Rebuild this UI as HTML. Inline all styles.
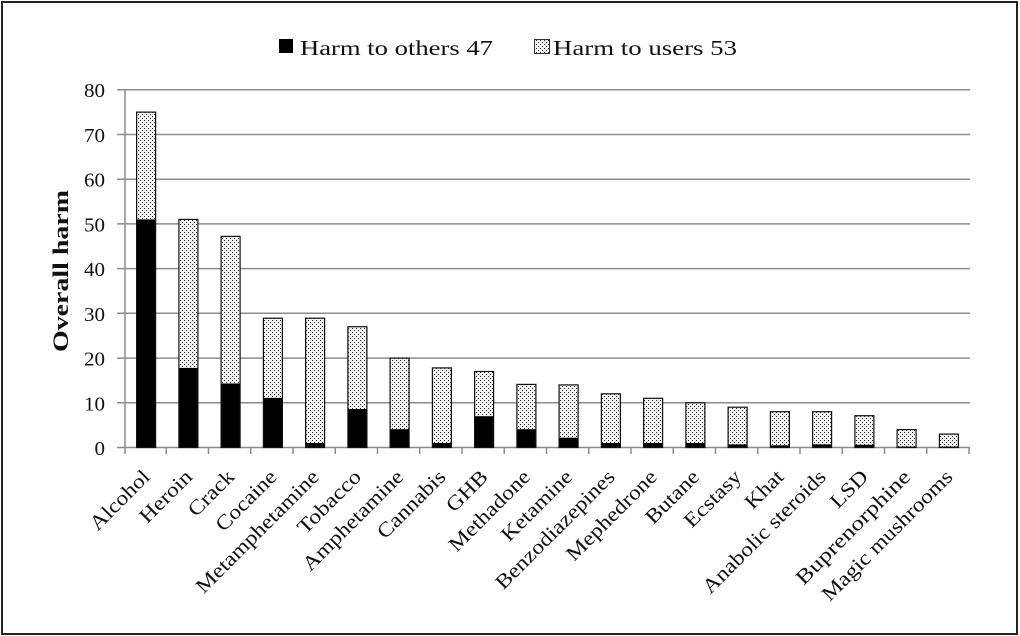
<!DOCTYPE html>
<html>
<head>
<meta charset="utf-8">
<style>
  html,body{margin:0;padding:0;background:#fff;}
  svg{display:block;font-family:"Liberation Serif","Times New Roman",serif;}
  text{font-family:"Liberation Serif","Times New Roman",serif;fill:#111;}
</style>
</head>
<body>
<svg width="1020" height="636" viewBox="0 0 1020 636" xmlns="http://www.w3.org/2000/svg" font-family="'Liberation Serif', 'Times New Roman', serif">
  <defs>
    <pattern id="dots" width="4" height="4" patternUnits="userSpaceOnUse">
      <rect width="4" height="4" fill="#f2f2f2"/>
      <rect x="0" y="0" width="1" height="1" fill="#222"/>
      <rect x="2" y="2" width="1" height="1" fill="#222"/>
    </pattern>
  </defs>
  <rect x="0" y="0" width="1020" height="636" fill="#fff"/>
  <rect x="2" y="2" width="1015" height="632" fill="none" stroke="#222" stroke-width="2"/>

  <!-- Legend -->
  <rect x="279" y="39" width="14" height="14" fill="#000"/>
  <text x="300" y="55" font-size="21.5" textLength="193" lengthAdjust="spacingAndGlyphs">Harm to others 47</text>
  <rect x="534.5" y="39.5" width="15" height="14" fill="url(#dots)" stroke="#333" stroke-width="1"/>
  <text x="553" y="55" font-size="21.5" textLength="184" lengthAdjust="spacingAndGlyphs">Harm to users 53</text>

  <!-- Gridlines -->
  <g stroke="#8c8c8c" stroke-width="1.5">
    <line x1="117" y1="402.8" x2="970" y2="402.8"/>
    <line x1="117" y1="358.1" x2="970" y2="358.1"/>
    <line x1="117" y1="313.3" x2="970" y2="313.3"/>
    <line x1="117" y1="268.6" x2="970" y2="268.6"/>
    <line x1="117" y1="223.9" x2="970" y2="223.9"/>
    <line x1="117" y1="179.2" x2="970" y2="179.2"/>
    <line x1="117" y1="134.5" x2="970" y2="134.5"/>
    <line x1="117" y1="89.7" x2="970" y2="89.7"/>
    <line x1="117" y1="447.5" x2="970" y2="447.5"/>
    <line x1="125" y1="89.7" x2="125" y2="454"/>
  </g>
  <!-- x ticks -->
  <g stroke="#8c8c8c" stroke-width="1.5">
    <line x1="166.25" y1="447.5" x2="166.25" y2="454"/>
    <line x1="208.5" y1="447.5" x2="208.5" y2="454"/>
    <line x1="250.75" y1="447.5" x2="250.75" y2="454"/>
    <line x1="293" y1="447.5" x2="293" y2="454"/>
    <line x1="335.25" y1="447.5" x2="335.25" y2="454"/>
    <line x1="377.5" y1="447.5" x2="377.5" y2="454"/>
    <line x1="419.75" y1="447.5" x2="419.75" y2="454"/>
    <line x1="462" y1="447.5" x2="462" y2="454"/>
    <line x1="504.25" y1="447.5" x2="504.25" y2="454"/>
    <line x1="546.5" y1="447.5" x2="546.5" y2="454"/>
    <line x1="588.75" y1="447.5" x2="588.75" y2="454"/>
    <line x1="631" y1="447.5" x2="631" y2="454"/>
    <line x1="673.25" y1="447.5" x2="673.25" y2="454"/>
    <line x1="715.5" y1="447.5" x2="715.5" y2="454"/>
    <line x1="757.75" y1="447.5" x2="757.75" y2="454"/>
    <line x1="800" y1="447.5" x2="800" y2="454"/>
    <line x1="842.25" y1="447.5" x2="842.25" y2="454"/>
    <line x1="884.5" y1="447.5" x2="884.5" y2="454"/>
    <line x1="926.75" y1="447.5" x2="926.75" y2="454"/>
    <line x1="969" y1="447.5" x2="969" y2="454"/>
  </g>

  <!-- Y tick labels -->
  <g font-size="20" text-anchor="end">
    <text x="105" y="97.2" textLength="21" lengthAdjust="spacingAndGlyphs">80</text>
    <text x="105" y="142" textLength="21" lengthAdjust="spacingAndGlyphs">70</text>
    <text x="105" y="186.7" textLength="21" lengthAdjust="spacingAndGlyphs">60</text>
    <text x="105" y="231.4" textLength="21" lengthAdjust="spacingAndGlyphs">50</text>
    <text x="105" y="276.1" textLength="21" lengthAdjust="spacingAndGlyphs">40</text>
    <text x="105" y="320.8" textLength="21" lengthAdjust="spacingAndGlyphs">30</text>
    <text x="105" y="365.6" textLength="21" lengthAdjust="spacingAndGlyphs">20</text>
    <text x="105" y="410.3" textLength="21" lengthAdjust="spacingAndGlyphs">10</text>
    <text x="105" y="455" textLength="10.5" lengthAdjust="spacingAndGlyphs">0</text>
  </g>

  <!-- Y axis title -->
  <text transform="translate(68,271) rotate(-90)" font-size="22" font-weight="bold" text-anchor="middle" textLength="162" lengthAdjust="spacingAndGlyphs">Overall harm</text>

  <!-- Bars: patterned (users) -->
  <g fill="url(#dots)">
    <rect x="136.6" y="112.1" width="19" height="107.3"/>
    <rect x="178.9" y="219.4" width="19" height="148.5"/>
    <rect x="221.1" y="236.4" width="19" height="147.1"/>
    <rect x="263.4" y="318.2" width="19" height="79.7"/>
    <rect x="305.6" y="318.2" width="19" height="124.8"/>
    <rect x="347.9" y="326.7" width="19" height="82.3"/>
    <rect x="390.1" y="358.1" width="19" height="71.1"/>
    <rect x="432.4" y="367.9" width="19" height="75.1"/>
    <rect x="474.6" y="371.5" width="19" height="44.7"/>
    <rect x="516.9" y="384.4" width="19" height="44.8"/>
    <rect x="559.1" y="384.9" width="19" height="52.8"/>
    <rect x="601.4" y="393.8" width="19" height="49.2"/>
    <rect x="643.6" y="398.3" width="19" height="44.7"/>
    <rect x="685.9" y="402.8" width="19" height="40.2"/>
    <rect x="728.1" y="407.2" width="19" height="37.2"/>
    <rect x="770.4" y="411.7" width="19" height="33.6"/>
    <rect x="812.6" y="411.7" width="19" height="32.7"/>
    <rect x="854.9" y="415.7" width="19" height="29.1"/>
    <rect x="897.1" y="429.6" width="19" height="17"/>
    <rect x="939.4" y="434.1" width="19" height="12.5"/>
  </g>
  <!-- Bars: black (others) -->
  <g fill="#000">
    <rect x="136.6" y="219.4" width="19" height="228.1"/>
    <rect x="178.9" y="367.9" width="19" height="79.6"/>
    <rect x="221.1" y="383.5" width="19" height="64"/>
    <rect x="263.4" y="397.9" width="19" height="49.6"/>
    <rect x="305.6" y="443" width="19" height="4.5"/>
    <rect x="347.9" y="409" width="19" height="38.5"/>
    <rect x="390.1" y="429.2" width="19" height="18.3"/>
    <rect x="432.4" y="443" width="19" height="4.5"/>
    <rect x="474.6" y="416.2" width="19" height="31.3"/>
    <rect x="516.9" y="429.2" width="19" height="18.3"/>
    <rect x="559.1" y="437.7" width="19" height="9.8"/>
    <rect x="601.4" y="443" width="19" height="4.5"/>
    <rect x="643.6" y="443" width="19" height="4.5"/>
    <rect x="685.9" y="443" width="19" height="4.5"/>
    <rect x="728.1" y="444.4" width="19" height="3.1"/>
    <rect x="770.4" y="445.3" width="19" height="2.2"/>
    <rect x="812.6" y="444.4" width="19" height="3.1"/>
    <rect x="854.9" y="444.8" width="19" height="2.7"/>
    <rect x="897.1" y="446.6" width="19" height="0.9"/>
    <rect x="939.4" y="446.6" width="19" height="0.9"/>
  </g>
  <!-- Bar outlines -->
  <g fill="none" stroke="#111" stroke-width="1.2">
    <rect x="136.6" y="112.1" width="19" height="335.4"/>
    <rect x="178.9" y="219.4" width="19" height="228.1"/>
    <rect x="221.1" y="236.4" width="19" height="211.1"/>
    <rect x="263.4" y="318.2" width="19" height="129.3"/>
    <rect x="305.6" y="318.2" width="19" height="129.3"/>
    <rect x="347.9" y="326.7" width="19" height="120.8"/>
    <rect x="390.1" y="358.1" width="19" height="89.4"/>
    <rect x="432.4" y="367.9" width="19" height="79.6"/>
    <rect x="474.6" y="371.5" width="19" height="76"/>
    <rect x="516.9" y="384.4" width="19" height="63.1"/>
    <rect x="559.1" y="384.9" width="19" height="62.6"/>
    <rect x="601.4" y="393.8" width="19" height="53.7"/>
    <rect x="643.6" y="398.3" width="19" height="49.2"/>
    <rect x="685.9" y="402.8" width="19" height="44.7"/>
    <rect x="728.1" y="407.2" width="19" height="40.3"/>
    <rect x="770.4" y="411.7" width="19" height="35.8"/>
    <rect x="812.6" y="411.7" width="19" height="35.8"/>
    <rect x="854.9" y="415.7" width="19" height="31.8"/>
    <rect x="897.1" y="429.6" width="19" height="17.9"/>
    <rect x="939.4" y="434.1" width="19" height="13.4"/>
  </g>

  <!-- X labels -->
  <g font-size="20.5" text-anchor="end">
    <text transform="translate(151.1,478) rotate(-45)" textLength="75.7" lengthAdjust="spacingAndGlyphs">Alcohol</text>
    <text transform="translate(193.4,478) rotate(-45)" textLength="65.3" lengthAdjust="spacingAndGlyphs">Heroin</text>
    <text transform="translate(235.6,478) rotate(-45)" textLength="56.1" lengthAdjust="spacingAndGlyphs">Crack</text>
    <text transform="translate(277.9,478) rotate(-45)" textLength="77" lengthAdjust="spacingAndGlyphs">Cocaine</text>
    <text transform="translate(320.1,478) rotate(-45)" textLength="164.5" lengthAdjust="spacingAndGlyphs">Metamphetamine</text>
    <text transform="translate(362.4,478) rotate(-45)" textLength="80.9" lengthAdjust="spacingAndGlyphs">Tobacco</text>
    <text transform="translate(404.6,478) rotate(-45)" textLength="133.2" lengthAdjust="spacingAndGlyphs">Amphetamine</text>
    <text transform="translate(446.9,478) rotate(-45)" textLength="87.5" lengthAdjust="spacingAndGlyphs">Cannabis</text>
    <text transform="translate(489.1,478) rotate(-45)" textLength="49.6" lengthAdjust="spacingAndGlyphs">GHB</text>
    <text transform="translate(531.4,478) rotate(-45)" textLength="105.7" lengthAdjust="spacingAndGlyphs">Methadone</text>
    <text transform="translate(573.6,478) rotate(-45)" textLength="91.4" lengthAdjust="spacingAndGlyphs">Ketamine</text>
    <text transform="translate(615.9,478) rotate(-45)" textLength="159.2" lengthAdjust="spacingAndGlyphs">Benzodiazepines</text>
    <text transform="translate(658.1,478) rotate(-45)" textLength="118.8" lengthAdjust="spacingAndGlyphs">Mephedrone</text>
    <text transform="translate(700.4,478) rotate(-45)" textLength="66.6" lengthAdjust="spacingAndGlyphs">Butane</text>
    <text transform="translate(742.6,478) rotate(-45)" textLength="71.8" lengthAdjust="spacingAndGlyphs">Ecstasy</text>
    <text transform="translate(784.9,478) rotate(-45)" textLength="45.7" lengthAdjust="spacingAndGlyphs">Khat</text>
    <text transform="translate(827.1,478) rotate(-45)" textLength="165.1" lengthAdjust="spacingAndGlyphs">Anabolic steroids</text>
    <text transform="translate(869.4,478) rotate(-45)" textLength="44.4" lengthAdjust="spacingAndGlyphs">LSD</text>
    <text transform="translate(911.6,478) rotate(-45)" textLength="152.7" lengthAdjust="spacingAndGlyphs">Buprenorphine</text>
    <text transform="translate(953.9,478) rotate(-45)" textLength="175.6" lengthAdjust="spacingAndGlyphs">Magic mushrooms</text>
  </g>
</svg>
</body>
</html>
